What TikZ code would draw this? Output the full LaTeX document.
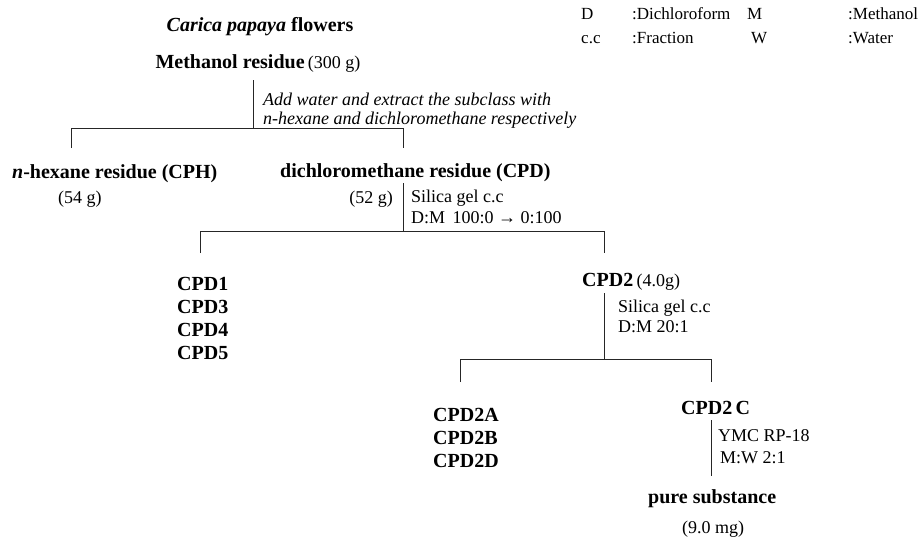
\documentclass[tikz,border=0pt]{standalone}
\usepackage{fontspec}
\setmainfont{Liberation Serif}
\usetikzlibrary{positioning,calc}
\tikzset{
  cmpd/.style={
    font=\fontsize{20}{23}\selectfont\bfseries,
    inner sep=0pt,
    anchor=base west
  },
  amt/.style={
    font=\fontsize{18}{20}\selectfont,
    inner sep=0pt,
    anchor=base west
  },
  cond/.style={
    font=\fontsize{18}{21}\selectfont,
    inner sep=0pt,
    align=left,
    anchor=base west
  },
  keytext/.style={
    font=\fontsize{17}{20}\selectfont,
    inner sep=0pt,
    anchor=base west
  },
  branch/.style={line width=0.9pt, black!85}
}
\newcommand{\amtfont}{\fontsize{18}{20}\selectfont\mdseries}

\begin{document}
\begin{tikzpicture}[x=1pt,y=-1pt]
  \useasboundingbox (0,0) rectangle (920,536);

  % legend
  \node[keytext] (keyD) at (581,19) {D};
  \node[keytext] (keyDt) at (632,19) {:Dichloroform};
  \node[keytext] (keyM) at (747,19) {M};
  \node[keytext] (keyMt) at (848,19) {:Methanol};
  \node[keytext] (keyC) at (581,43) {c.c};
  \node[keytext] (keyCt) at (632,43) {:Fraction};
  \node[keytext] (keyW) at (751,43) {W};
  \node[keytext] (keyWt) at (848,43) {:Water};

  % top
  \node[cmpd,anchor=base] (plant) at (260,31) {\textit{Carica papaya} flowers};
  \node[cmpd,anchor=base] (meoh) at (258,68) {Methanol residue\,{\amtfont(300 g)}};
  % multi-line nodes: base = last line
  \node[cond,font=\fontsize{18}{19}\selectfont\itshape] (extr) at (263,124)
    {Add water and extract the subclass with\\n-hexane and dichloromethane respectively};

  \coordinate (meohT) at (253,80);
  \coordinate (meohB) at (253,128);
  \coordinate (barAl) at (71,128);
  \coordinate (barAr) at (403,128);
  \coordinate (dropAl) at (71,148);
  \coordinate (dropAr) at (403,148);
  \draw[branch] (meohT) -- (meohB);
  \draw[branch] (dropAl) -- (barAl) -- (barAr) -- (dropAr);

  % partition
  \node[cmpd] (cph) at (12,178) {\textit{n}-hexane residue (CPH)};
  \node[amt] (cphW) at (58,203) {(54 g)};
  \node[cmpd] (cpd) at (280,177) {dichloromethane residue (CPD)};
  \node[amt,anchor=base east] (cpdW) at (393,203) {(52 g)};
  \node[cond] (sil1) at (411,223) {Silica gel c.c\\D:M\, 100:0 → 0:100};

  \coordinate (cpdT) at (403,183);
  \coordinate (cpdB) at (403,231);
  \coordinate (barBl) at (200,231);
  \coordinate (barBr) at (604,231);
  \coordinate (dropBl) at (200,253);
  \coordinate (dropBr) at (604,253);
  \draw[branch] (cpdT) -- (cpdB);
  \draw[branch] (dropBl) -- (barBl) -- (barBr) -- (dropBr);

  % CPD fractions
  \node[cmpd] (cpd1) at (177,290) {CPD1};
  \node[cmpd] (cpd3) at (177,313) {CPD3};
  \node[cmpd] (cpd4) at (177,336) {CPD4};
  \node[cmpd] (cpd5) at (177,359) {CPD5};
  \node[cmpd] (cpd2) at (582,286) {CPD2\,{\amtfont(4.0g)}};
  \node[cond,font=\fontsize{18}{20}\selectfont] (sil2) at (618,332) {Silica gel c.c\\D:M 20:1};

  \coordinate (cpd2T) at (604,293);
  \coordinate (cpd2B) at (604,359);
  \coordinate (barCl) at (460,359);
  \coordinate (barCr) at (711,359);
  \coordinate (dropCl) at (460,382);
  \coordinate (dropCr) at (711,382);
  \draw[branch] (cpd2T) -- (cpd2B);
  \draw[branch] (dropCl) -- (barCl) -- (barCr) -- (dropCr);

  % CPD2 fractions
  \node[cmpd] (cpd2a) at (433,421) {CPD2A};
  \node[cmpd] (cpd2b) at (433,444) {CPD2B};
  \node[cmpd] (cpd2d) at (433,467) {CPD2D};
  \node[cmpd] (cpd2c) at (681,414) {CPD2\,C};
  \node[cond] (ymc) at (718,441) {YMC RP-18};
  \node[cond] (mw) at (720,463) {M:W 2:1};

  \coordinate (cpd2cT) at (711,420);
  \coordinate (cpd2cB) at (711,476);
  \draw[branch] (cpd2cT) -- (cpd2cB);

  \node[cmpd] (pure) at (648,503) {pure substance};
  \node[amt] (pureW) at (682,533) {(9.0 mg)};
\end{tikzpicture}
\end{document}
